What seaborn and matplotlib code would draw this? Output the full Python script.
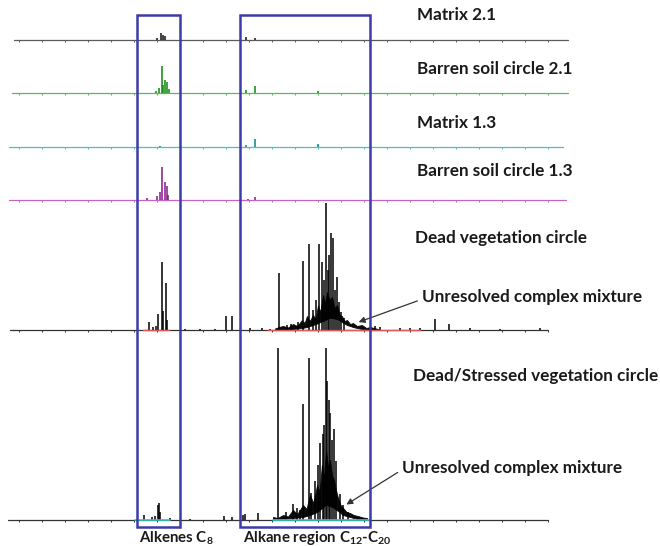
"""GC chromatograms of soil samples, stacked, with alkene and alkane windows."""

import matplotlib

matplotlib.use("Agg")
import matplotlib.pyplot as plt
import numpy as np
import pandas as pd
import seaborn as sns

# retention times in minutes, heights in offset units
matrix21_t = [6.01, 6.16, 6.25, 6.35, 9.87, 10.26]
matrix21_h = [2, 7, 5, 4, 3, 2]

barren21_t = [5.96, 6.09, 6.20, 6.27, 6.35, 6.42, 6.51, 9.87, 10.26, 13.0]
barren21_h = [2, 5, 27, 8, 13, 11, 4, 3, 7, 2]

matrix13_t = [6.13, 9.87, 10.26, 13.0]
matrix13_h = [1.5, 2, 8, 3]

barren13_t = [5.55, 5.99, 6.13, 6.20, 6.35, 6.42, 6.49, 9.97, 10.26]
barren13_h = [2, 4, 8, 33, 18, 14, 5, 1.5, 3]

dead_t = [5.65, 5.83, 5.94, 6.06, 6.20, 6.28, 6.38, 6.43, 7.22, 7.87, 8.52,
          8.99, 9.25, 10.04, 10.57, 10.91, 11.32, 11.65, 11.83, 12.13, 12.36,
          12.61, 12.78, 12.91, 13.06, 13.19, 13.28, 13.35, 13.43, 13.49, 13.55,
          13.64, 13.72, 13.81, 13.91, 14.00, 14.13, 15.48, 15.70, 16.57, 17.0,
          17.43, 18.09, 18.70, 19.61, 20.91, 22.65]
dead_h = [8, 3, 4, 16, 68, 19, 47, 10, 1, 1, 1,
          14, 14, 2, 2, 1.5, 57, 5, 6, 8, 69,
          86, 20, 30, 86, 68, 50, 127, 60, 75, 97,
          92, 40, 53, 28, 18, 12, 4, 3, 2, 2,
          2.5, 11, 6, 2, 1.5, 2]
dead_band_t = [11.13, 11.3, 11.48, 11.7, 11.91, 12.1, 12.30, 12.42, 12.52,
               12.65, 12.78, 12.9, 13.00, 13.1, 13.22, 13.3, 13.39, 13.5,
               13.61, 13.72, 13.83, 13.94, 14.04, 14.15, 14.26, 14.4, 14.52,
               14.7, 14.91, 15.1, 15.26, 15.61]
dead_band_lo = [0, 0, 0, 0.5, 1, 1.5, 2, 2.5, 3, 4, 5, 6, 7, 8, 9, 10, 11,
                12, 12, 11.5, 11, 9.5, 8, 6.5, 5, 4, 3, 2, 1, 0.5, 0, 0]
dead_band_hi = [1.5, 3, 4, 2.5, 6, 4, 10, 7, 14, 9, 15, 11, 25, 18, 35, 26,
                38, 30, 33, 22, 25, 15, 14, 9, 10, 6, 7, 4, 5, 2, 3, 1]

stressed_t = [5.43, 5.77, 5.91, 6.03, 6.09, 6.13, 6.57, 7.43, 8.90, 9.26,
              9.74, 9.83, 10.40, 11.25, 11.60, 11.93, 12.10, 12.20, 12.36,
              12.61, 12.70, 12.87, 13.00, 13.09, 13.20, 13.28, 13.35, 13.40,
              13.46, 13.52, 13.61, 13.70, 13.78, 13.96, 14.10, 14.30]
stressed_h = [5, 3, 4, 15, 17, 8, 2, 1, 4, 3,
              5, 6, 7, 172, 8, 16, 12, 10, 116,
              162, 27, 39, 55, 77, 86, 95, 172, 139,
              120, 107, 80, 91, 59, 26, 15, 8]
stressed_band_t = [11.04, 11.25, 11.48, 11.7, 11.91, 12.1, 12.35, 12.5, 12.65,
                   12.8, 12.96, 13.07, 13.17, 13.26, 13.35, 13.44, 13.52,
                   13.61, 13.70, 13.78, 13.87, 13.98, 14.09, 14.24, 14.39,
                   14.55, 14.74, 14.95, 15.13]
stressed_band_lo = [0, 0.5, 1, 1.5, 2, 2.5, 3, 4, 5, 6.5, 8, 10, 12, 13.5, 15,
                    14.5, 14, 13, 12, 10.5, 9, 7, 5, 4, 3, 2, 1, 0.5, 0]
stressed_band_hi = [3, 2, 5, 3.5, 10, 6, 15, 11, 25, 17, 35, 28, 55, 42, 70,
                    52, 60, 45, 40, 30, 22, 15, 12, 8, 7, 5, 4, 2.5, 2]

labels = ["Matrix 2.1", "Barren soil circle 2.1", "Matrix 1.3",
          "Barren soil circle 1.3", "Dead vegetation circle",
          "Dead/Stressed vegetation circle"]

# layout: baseline offset, run start/end, line colour, peak colour
traces = [
    (matrix21_t, matrix21_h, 506, -0.22, 23.87, "#5a5a5a", "#111111"),
    (barren21_t, barren21_h, 453, -0.30, 23.87, "#5cb85c", "#0d8a0d"),
    (matrix13_t, matrix13_h, 399, -0.45, 23.65, "#4cbfbf", "#00858a"),
    (barren13_t, barren13_h, 346, -0.42, 23.80, "#c465c4", "#86168a"),
    (dead_t, dead_h, 216, -0.39, 23.0, "#333333", "#000000"),
    (stressed_t, stressed_h, 26, -0.48, 23.0, "#333333", "#000000"),
]

sns.set_theme(style="white")
plt.rcParams.update({
    "font.family": ["Lato", "DejaVu Sans"],
    "font.weight": "bold",
    "mathtext.fontset": "custom",
    "mathtext.rm": "Lato:bold",
    "mathtext.it": "Lato:bold",
    "mathtext.default": "rm",
})

fig = plt.figure(figsize=(6.6, 5.46), dpi=100)
ax = fig.add_axes([0, 0, 1, 1])
ax.set_xlim(-0.826, 27.87)
ax.set_ylim(0, 546)
ax.axis("off")

for t, h, base, start, end, line_c, peak_c in traces:
    run = pd.DataFrame({"t": [start, end], "y": [base, base]})
    sns.lineplot(data=run, x="t", y="y", color=line_c, lw=0.9, ax=ax)
    ticks = np.arange(0, int(end) + 1)
    ax.vlines(ticks, base - 2.2, base, color=line_c, lw=0.7)
    ax.vlines(t, base, base + np.asarray(h), color=peak_c, lw=1.1)

# unresolved complex mixture bands
for bt, lo, hi, base in [(dead_band_t, dead_band_lo, dead_band_hi, 216),
                         (stressed_band_t, stressed_band_lo, stressed_band_hi, 26)]:
    ax.fill_between(bt, base + np.asarray(lo), base + np.asarray(hi),
                    color="#0a0a0a", lw=0.6)

# integration baselines under the two lower runs
for x0, x1 in [(5.39, 6.52), (10.83, 17.43)]:
    ax.plot([x0, x1], [216, 216], color="#e05a5a", lw=1.0)
for x0, x1 in [(5.04, 6.57), (11.04, 15.26)]:
    ax.plot([x0, x1], [26, 26], color="#3cc4c4", lw=1.2)

# region boxes
box_c = "#3b3bab"
for x0, x1 in [(5.13, 7.0), (9.61, 15.26)]:
    ax.add_patch(plt.Rectangle((x0, 19), x1 - x0, 512, fill=False,
                               ec=box_c, lw=1.8, zorder=5))

label_pos = [(417, 15), (417, 69), (417, 123), (417, 171), (415, 238), (413, 376)]
for text, (x, y) in zip(labels, label_pos):
    fig.text(x / 660, 1 - y / 546, text, fontsize=12.3, color="#1a1a1a",
             va="center", ha="left")

for (tx, ty), (hx, hy) in [((420, 297), (356, 323)), ((400, 468), (344, 506))]:
    fig.text(tx / 660 + 0.003, 1 - ty / 546, "Unresolved complex mixture",
             fontsize=12.3, color="#1a1a1a", va="center", ha="left")
    ax.annotate("", xy=(hx / 660, 1 - hy / 546), xycoords="figure fraction",
                xytext=(tx / 660, 1 - (ty + 3) / 546), textcoords="figure fraction",
                arrowprops=dict(arrowstyle="-|>", color="#333333", lw=0.9,
                                mutation_scale=9))

fig.text(139 / 660, 1 - 538 / 546, r"Alkenes C$_{8}$", fontsize=10.8,
         color="#1a1a1a", va="center", ha="left")
fig.text(243 / 660, 1 - 538 / 546, r"Alkane region C$_{12}$-C$_{20}$",
         fontsize=10.8, color="#1a1a1a", va="center", ha="left")

fig.savefig("out.png", dpi=100)
